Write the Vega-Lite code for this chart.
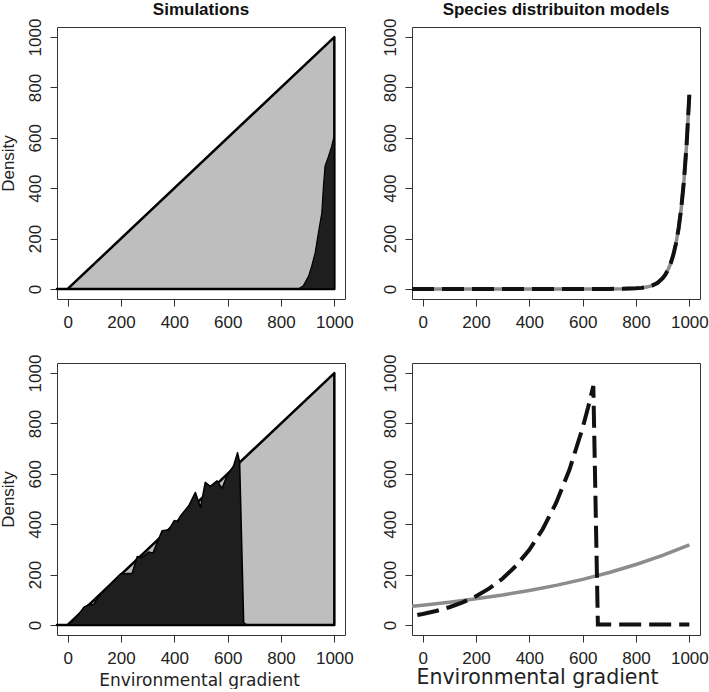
{
  "$schema": "https://vega.github.io/schema/vega-lite/v6.json",
  "background": "white",
  "padding": {"left": -2, "top": 0, "right": 0, "bottom": 0},
  "datasets": {
    "tri": [{"x": -40, "y": 0}, {"x": 0, "y": 0}, {"x": 1000, "y": 1000}],
    "simA": [
      {"x": 865, "y": 0}, {"x": 884, "y": 13}, {"x": 903, "y": 50}, {"x": 915, "y": 90},
      {"x": 928, "y": 143}, {"x": 940, "y": 222}, {"x": 953, "y": 302}, {"x": 959, "y": 407},
      {"x": 965, "y": 487}, {"x": 978, "y": 526}, {"x": 990, "y": 566}, {"x": 1000, "y": 612}
    ],
    "simC": [
      {"x": 0, "y": 0}, {"x": 20, "y": 18}, {"x": 40, "y": 40}, {"x": 61, "y": 70},
      {"x": 80, "y": 80}, {"x": 98, "y": 82}, {"x": 110, "y": 105}, {"x": 140, "y": 140},
      {"x": 170, "y": 172}, {"x": 198, "y": 202}, {"x": 242, "y": 205}, {"x": 261, "y": 272},
      {"x": 279, "y": 268}, {"x": 304, "y": 290}, {"x": 320, "y": 285}, {"x": 336, "y": 328},
      {"x": 354, "y": 374}, {"x": 380, "y": 378}, {"x": 400, "y": 415}, {"x": 412, "y": 410},
      {"x": 423, "y": 433}, {"x": 454, "y": 473}, {"x": 479, "y": 526}, {"x": 498, "y": 466},
      {"x": 516, "y": 566}, {"x": 535, "y": 550}, {"x": 560, "y": 572}, {"x": 579, "y": 542},
      {"x": 597, "y": 592}, {"x": 622, "y": 631}, {"x": 637, "y": 684}, {"x": 645, "y": 645},
      {"x": 660, "y": 11}, {"x": 666, "y": 3}, {"x": 680, "y": 0}, {"x": 1000, "y": 0}
    ],
    "sdmB": [
      {"x": -40, "y": 0}, {"x": 0, "y": 0}, {"x": 100, "y": 0}, {"x": 200, "y": 0},
      {"x": 300, "y": 0}, {"x": 400, "y": 0}, {"x": 500, "y": 0}, {"x": 600, "y": 0.1},
      {"x": 650, "y": 0.1}, {"x": 700, "y": 0.2}, {"x": 750, "y": 0.6}, {"x": 800, "y": 2.3},
      {"x": 820, "y": 4.2}, {"x": 840, "y": 7.4}, {"x": 860, "y": 13.3}, {"x": 880, "y": 23.7},
      {"x": 900, "y": 42.4}, {"x": 910, "y": 56.7}, {"x": 920, "y": 75.8}, {"x": 930, "y": 101.3},
      {"x": 940, "y": 135.3}, {"x": 950, "y": 180.9}, {"x": 960, "y": 241.7}, {"x": 970, "y": 323},
      {"x": 980, "y": 431.7}, {"x": 990, "y": 576.9}, {"x": 1000, "y": 771}
    ],
    "sdmDgrey": [
      {"x": -40, "y": 73.7}, {"x": 0, "y": 78}, {"x": 100, "y": 90}, {"x": 200, "y": 103.5},
      {"x": 300, "y": 119}, {"x": 400, "y": 137}, {"x": 500, "y": 157}, {"x": 600, "y": 181},
      {"x": 700, "y": 208}, {"x": 800, "y": 240}, {"x": 900, "y": 276}, {"x": 1000, "y": 318}
    ],
    "sdmDblack": [
      {"x": -20, "y": 39.4}, {"x": 0, "y": 43.4}, {"x": 50, "y": 55.2}, {"x": 100, "y": 70.3},
      {"x": 150, "y": 89.5}, {"x": 200, "y": 113.8}, {"x": 250, "y": 144.9}, {"x": 300, "y": 184.4},
      {"x": 350, "y": 234.6}, {"x": 400, "y": 298.5}, {"x": 450, "y": 379.9}, {"x": 500, "y": 483.4},
      {"x": 550, "y": 615.1}, {"x": 600, "y": 782.7}, {"x": 620, "y": 862}, {"x": 640, "y": 949},
      {"x": 657, "y": 2}, {"x": 1000, "y": 2}
    ]
  },
  "bounds": "flush",
  "columns": 2,
  "spacing": {"row": 64, "column": 67},
  "concat": [
    {
      "width": 288, "height": 272,
      "title": {"text": "Simulations"},
      "encoding": {
        "x": {"field": "x", "type": "quantitative", "scale": {"domain": [-40, 1040], "nice": false, "zero": false}, "axis": {"values": [0, 200, 400, 600, 800, 1000], "format": "d", "title": null}},
        "y": {"field": "y", "type": "quantitative", "scale": {"domain": [-40, 1040], "nice": false, "zero": false}, "axis": {"values": [0, 200, 400, 600, 800, 1000], "format": "d", "title": "Density"}}
      },
      "layer": [
        {"data": {"name": "tri"}, "mark": {"type": "area", "fill": "#bebebe", "stroke": "black", "strokeWidth": 2.5, "strokeJoin": "round"}, "encoding": {"y2": {"datum": 0}}},
        {"data": {"name": "simA"}, "mark": {"type": "area", "fill": "#1e1e1e", "stroke": "black", "strokeWidth": 1.2, "strokeJoin": "round"}, "encoding": {"y2": {"datum": 0}}},
        {"data": {"values": [{"label": "(a)"}]}, "mark": {"type": "text", "align": "left", "baseline": "middle", "fontSize": 17, "fontWeight": "bold", "font": "Liberation Sans", "color": "#111"}, "encoding": {"x": {"datum": 17}, "y": {"datum": 962}, "text": {"field": "label"}}}
      ]
    },
    {
      "width": 288, "height": 272,
      "title": {"text": "Species distribuiton models"},
      "encoding": {
        "x": {"field": "x", "type": "quantitative", "scale": {"domain": [-40, 1040], "nice": false, "zero": false}, "axis": {"values": [0, 200, 400, 600, 800, 1000], "format": "d", "title": null}},
        "y": {"field": "y", "type": "quantitative", "scale": {"domain": [-40, 1040], "nice": false, "zero": false}, "axis": {"values": [0, 200, 400, 600, 800, 1000], "format": "d", "title": null}}
      },
      "layer": [
        {"data": {"name": "sdmB"}, "mark": {"type": "line", "color": "#8c8c8c", "strokeWidth": 3.5}},
        {"data": {"name": "sdmB"}, "mark": {"type": "line", "color": "#111", "strokeWidth": 4, "strokeDash": [22, 8]}},
        {"data": {"values": [{"label": "(b)"}]}, "mark": {"type": "text", "align": "left", "baseline": "middle", "fontSize": 17, "fontWeight": "bold", "font": "Liberation Sans", "color": "#111"}, "encoding": {"x": {"datum": 17}, "y": {"datum": 962}, "text": {"field": "label"}}}
      ]
    },
    {
      "width": 288, "height": 272,
      "encoding": {
        "x": {"field": "x", "type": "quantitative", "scale": {"domain": [-40, 1040], "nice": false, "zero": false}, "axis": {"values": [0, 200, 400, 600, 800, 1000], "format": "d", "title": "Environmental gradient", "titleFontSize": 17, "titlePadding": 6, "titleX": 142}},
        "y": {"field": "y", "type": "quantitative", "scale": {"domain": [-40, 1040], "nice": false, "zero": false}, "axis": {"values": [0, 200, 400, 600, 800, 1000], "format": "d", "title": "Density"}}
      },
      "layer": [
        {"data": {"name": "tri"}, "mark": {"type": "area", "fill": "#bebebe", "stroke": "black", "strokeWidth": 2.5, "strokeJoin": "round"}, "encoding": {"y2": {"datum": 0}}},
        {"data": {"name": "simC"}, "mark": {"type": "area", "fill": "#1e1e1e", "stroke": "black", "strokeWidth": 1.5, "strokeJoin": "round"}, "encoding": {"y2": {"datum": 0}}},
        {"data": {"values": [{"label": "(c)"}]}, "mark": {"type": "text", "align": "left", "baseline": "middle", "fontSize": 17, "fontWeight": "bold", "font": "Liberation Sans", "color": "#111"}, "encoding": {"x": {"datum": 17}, "y": {"datum": 960}, "text": {"field": "label"}}}
      ]
    },
    {
      "width": 288, "height": 272,
      "encoding": {
        "x": {"field": "x", "type": "quantitative", "scale": {"domain": [-40, 1040], "nice": false, "zero": false}, "axis": {"values": [0, 200, 400, 600, 800, 1000], "format": "d", "title": "Environmental gradient", "titleFontSize": 20.5, "titlePadding": 1, "titleX": 125}},
        "y": {"field": "y", "type": "quantitative", "scale": {"domain": [-40, 1040], "nice": false, "zero": false}, "axis": {"values": [0, 200, 400, 600, 800, 1000], "format": "d", "title": null}}
      },
      "layer": [
        {"data": {"name": "sdmDgrey"}, "mark": {"type": "line", "color": "#8c8c8c", "strokeWidth": 3.5}},
        {"data": {"name": "sdmDblack"}, "mark": {"type": "line", "color": "#111", "strokeWidth": 4, "strokeDash": [22, 8]}},
        {"data": {"values": [{"label": "(d)"}]}, "mark": {"type": "text", "align": "left", "baseline": "middle", "fontSize": 17, "fontWeight": "bold", "font": "Liberation Sans", "color": "#111"}, "encoding": {"x": {"datum": 17}, "y": {"datum": 958}, "text": {"field": "label"}}}
      ]
    }
  ],
  "config": {
    "view": {"stroke": "#333", "strokeWidth": 1},
    "title": {"font": "Liberation Sans", "fontSize": 17, "fontWeight": "bold", "color": "#111", "anchor": "middle", "frame": "group", "baseline": "alphabetic", "offset": -1},
    "axis": {
      "domain": false, "grid": false,
      "tickColor": "#333", "tickSize": 7, "tickWidth": 1,
      "labelFont": "Liberation Sans", "labelFontSize": 17, "labelColor": "#222",
      "titleColor": "#222", "titleFontWeight": "normal"
    },
    "axisX": {"labelPadding": 8, "titleFont": "DejaVu Sans", "titleAlign": "center"},
    "axisY": {"labelAngle": -90, "labelAlign": "center", "labelBaseline": "bottom", "labelPadding": 6, "titleFont": "Liberation Sans", "titleFontSize": 17, "titlePadding": 9}
  }
}
